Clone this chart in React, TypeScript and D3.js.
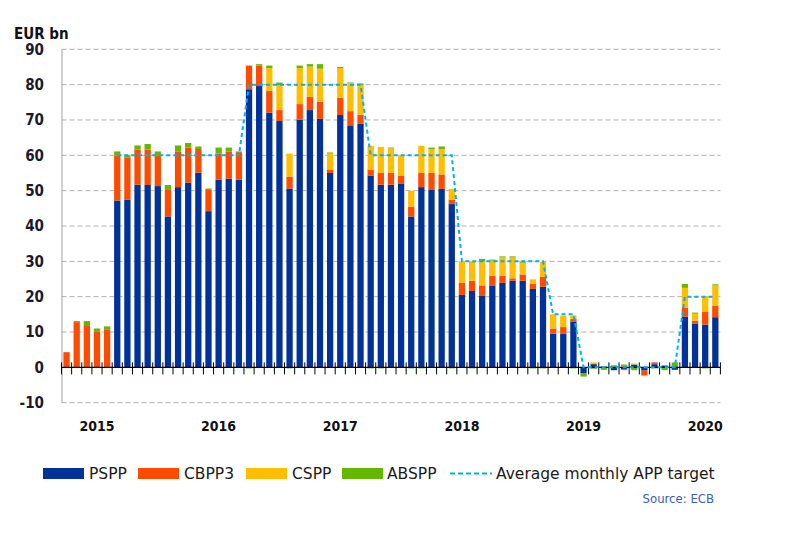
import { useEffect, useRef } from 'react';
import * as d3 from 'd3';

// monthly net purchases, EUR bn
const months = [
  '2014-10', '2014-11', '2014-12',
  '2015-01', '2015-02', '2015-03', '2015-04', '2015-05', '2015-06', '2015-07', '2015-08', '2015-09', '2015-10', '2015-11', '2015-12',
  '2016-01', '2016-02', '2016-03', '2016-04', '2016-05', '2016-06', '2016-07', '2016-08', '2016-09', '2016-10', '2016-11', '2016-12',
  '2017-01', '2017-02', '2017-03', '2017-04', '2017-05', '2017-06', '2017-07', '2017-08', '2017-09', '2017-10', '2017-11', '2017-12',
  '2018-01', '2018-02', '2018-03', '2018-04', '2018-05', '2018-06', '2018-07', '2018-08', '2018-09', '2018-10', '2018-11', '2018-12',
  '2019-01', '2019-02', '2019-03', '2019-04', '2019-05', '2019-06', '2019-07', '2019-08', '2019-09', '2019-10', '2019-11', '2019-12',
  '2020-01', '2020-02',
];

const pspp = [
  0, 0, 0,
  0, 0, 47.2, 47.5, 51.7, 51.6, 51.3, 42.7, 51.0, 52.3, 55.1, 44.2,
  53.1, 53.4, 53.1, 78.7, 79.6, 72.1, 69.7, 50.6, 70.1, 72.8, 70.3, 55.0,
  71.4, 68.3, 69.0, 54.3, 51.7, 51.7, 51.9, 42.7, 51.0, 50.2, 50.5, 46.2,
  20.5, 21.6, 20.2, 23.2, 23.9, 24.5, 24.5, 22.2, 22.8, 9.5, 9.5, 13.0,
  -1.6, 0.9, 0.2, -0.8, -0.5, 0.8, -0.9, 0.9, 0.4, -0.7, 14.4, 12.3,
  12.1, 14.2,
];

const cbpp3 = [
  4.3, 12.8, 11.7,
  10.2, 10.6, 12.7, 11.8, 9.9, 10.0, 8.7, 7.5, 10.1, 9.9, 6.7, 6.0,
  7.4, 7.7, 7.8, 6.7, 5.8, 6.1, 3.1, 3.4, 4.4, 3.7, 4.9, 1.0,
  4.9, 4.2, 2.5, 1.7, 3.3, 3.3, 2.4, 2.8, 4.0, 4.8, 4.1, 1.3,
  3.4, 2.9, 3.0, 2.7, 2.0, 0.7, 1.8, 1.4, 2.8, 1.5, 1.9, 0.7,
  0, 0.2, 0, 0, -0.3, 0, -1.4, 0.5, 0.2, 0, 2.4, 0.9,
  3.7, 3.3,
];

const cspp = [
  0, 0, 0,
  0, 0, 0, 0, 0, 0, 0, 0, 0, 0, 0, 0,
  0, 0, 0, 0, 0, 6.5, 7.1, 6.5, 10.2, 8.6, 9.3, 4.5,
  8.4, 7.9, 8.4, 6.7, 7.4, 7.0, 5.5, 4.5, 7.7, 6.8, 7.2, 3.0,
  6.1, 5.5, 6.8, 4.3, 5.2, 5.9, 3.3, 1.3, 4.2, 4.0, 3.2, 1.0,
  0, 0.3, 0, 0.2, 0.4, 0.3, 0, 0, 0, 0, 5.7, 2.0,
  4.4, 5.7,
];

const abspp = [
  0, 0.3, 1.4,
  0.8, 1.0, 1.2, 0.7, 1.2, 1.6, 1.1, 1.4, 1.7, 1.3, 0.7, 0.4,
  1.7, 1.1, 0.2, -0.3, 0.4, 0.7, 0.7, -0.3, 0.7, 0.7, 1.3, 0.3,
  0.3, 0.2, 0.4, -0.3, -0.3, 0.2, 0, -0.3, -0.3, 0.4, 0.7, -0.3,
  0, -0.3, 0.7, 0.3, 0.3, 0.3, 0.2, -0.3, -0.3, 0, 0, -0.3,
  -1.0, -0.4, -0.7, 0.4, 0.4, -0.8, 0, -0.3, -0.8, 1.4, 1.1, 0.3,
  -0.3, 0.3,
];

// average monthly APP target
const target: (number | null)[] = [
  null, null, null,
  null, null, 60, 60, 60, 60, 60, 60, 60, 60, 60, 60,
  60, 60, 60, 80, 80, 80, 80, 80, 80, 80, 80, 80,
  80, 80, 80, 60, 60, 60, 60, 60, 60, 60, 60, 60,
  30, 30, 30, 30, 30, 30, 30, 30, 30, 15, 15, 15,
  0, 0, 0, 0, 0, 0, 0, 0, 0, 0, 20, 20,
  20, 20,
];

const yearLabels = ['2015', '2016', '2017', '2018', '2019', '2020'];
const yTicks = [-10, 0, 10, 20, 30, 40, 50, 60, 70, 80, 90];

const seriesKeys = ['PSPP', 'CBPP3', 'CSPP', 'ABSPP'];
const colors: Record<string, string> = {
  PSPP: '#003299',
  CBPP3: '#ff4b00',
  CSPP: '#ffbf00',
  ABSPP: '#65b800',
};
const targetColor = '#00b1ea';
const font = '"DejaVu Sans Condensed", "DejaVu Sans", sans-serif';
const legendFont = '"DejaVu Sans", sans-serif';

export default function App() {
  const ref = useRef<SVGSVGElement>(null);

  useEffect(() => {
    const el = ref.current;
    if (!el) return;
    const svg = d3.select(el);
    svg.selectAll('*').remove();

    const W = 787;
    const H = 543;
    const left = 61.5;
    const right = 720.4;
    svg.attr('width', W).attr('height', H).attr('viewBox', `0 0 ${W} ${H}`);

    const rows = months.map((m, i) => ({
      month: m,
      PSPP: pspp[i],
      CBPP3: cbpp3[i],
      CSPP: cspp[i],
      ABSPP: abspp[i],
    }));

    const x = d3.scaleBand<string>().domain(months).range([left, right]).paddingInner(0.38).paddingOuter(0.19);
    const y = d3.scaleLinear().domain([-10, 90]).range([402.7, 49.3]);
    const cx = (m: string) => (x(m) ?? 0) + x.bandwidth() / 2;

    // gridlines
    svg
      .append('g')
      .selectAll('line')
      .data(yTicks.filter((t) => t !== 0))
      .join('line')
      .attr('x1', left)
      .attr('x2', right)
      .attr('y1', (d) => y(d))
      .attr('y2', (d) => y(d))
      .attr('stroke', '#b0b0b0')
      .attr('stroke-width', 1)
      .attr('stroke-dasharray', '5,3');

    // y axis line
    svg
      .append('line')
      .attr('x1', left + 0.5)
      .attr('x2', left + 0.5)
      .attr('y1', y(90))
      .attr('y2', y(-10))
      .attr('stroke', '#b0b0b0')
      .attr('stroke-width', 1.2);

    // y tick labels
    svg
      .append('g')
      .selectAll('text')
      .data(yTicks)
      .join('text')
      .attr('x', 44)
      .attr('y', (d) => y(d))
      .attr('dy', '0.36em')
      .attr('text-anchor', 'end')
      .attr('font-family', font)
      .attr('font-size', 15)
      .attr('font-weight', 'bold')
      .attr('fill', '#1a1a2e')
      .text((d) => String(d));

    svg
      .append('text')
      .attr('x', 14)
      .attr('y', 38.5)
      .attr('font-family', font)
      .attr('font-size', 15)
      .attr('font-weight', 'bold')
      .attr('fill', '#111')
      .text('EUR bn');

    // stacked bars
    const stacked = d3
      .stack<(typeof rows)[number]>()
      .keys(seriesKeys)
      .offset(d3.stackOffsetDiverging)(rows as any);

    svg
      .append('g')
      .selectAll('g')
      .data(stacked)
      .join('g')
      .attr('fill', (s) => colors[s.key])
      .selectAll('rect')
      .data((s) => s)
      .join('rect')
      .attr('x', (d) => x(d.data.month) ?? 0)
      .attr('width', x.bandwidth())
      .attr('y', (d) => y(Math.max(d[0], d[1])))
      .attr('height', (d) => Math.abs(y(d[0]) - y(d[1])));

    // zero axis with month ticks
    const y0 = y(0);
    svg
      .append('line')
      .attr('x1', left)
      .attr('x2', right)
      .attr('y1', y0)
      .attr('y2', y0)
      .attr('stroke', '#000')
      .attr('stroke-width', 1.4);

    const boundaries = [...months.map((m) => cx(m) - x.step() / 2), right];
    svg
      .append('g')
      .selectAll('line')
      .data(boundaries)
      .join('line')
      .attr('x1', (d) => d)
      .attr('x2', (d) => d)
      .attr('y1', y0 - 5)
      .attr('y2', y0 + 7)
      .attr('stroke', '#000')
      .attr('stroke-width', 1);

    // target line
    const line = d3
      .line<number | null>()
      .defined((d) => d !== null)
      .x((_d, i) => cx(months[i]))
      .y((d) => y(d as number));

    svg
      .append('path')
      .datum(target)
      .attr('d', line)
      .attr('fill', 'none')
      .attr('stroke', targetColor)
      .attr('stroke-width', 2)
      .attr('stroke-dasharray', '4,3');

    // year labels under January
    svg
      .append('g')
      .selectAll('text')
      .data(yearLabels)
      .join('text')
      .attr('x', (d) => cx(`${d}-01`))
      .attr('y', 431)
      .attr('text-anchor', 'middle')
      .attr('font-family', font)
      .attr('font-size', 14)
      .attr('font-weight', 'bold')
      .attr('fill', '#111')
      .text((d) => d);

    // legend
    const legend = [
      { label: 'PSPP', x: 43, tx: 89, kind: 'rect', color: colors.PSPP },
      { label: 'CBPP3', x: 138, tx: 184, kind: 'rect', color: colors.CBPP3 },
      { label: 'CSPP', x: 246, tx: 292, kind: 'rect', color: colors.CSPP },
      { label: 'ABSPP', x: 342, tx: 387, kind: 'rect', color: colors.ABSPP },
      { label: 'Average monthly APP target', x: 450, tx: 496, kind: 'line', color: targetColor },
    ];
    const lg = svg.append('g');
    legend.forEach((item) => {
      if (item.kind === 'rect') {
        lg.append('rect')
          .attr('x', item.x)
          .attr('y', 468)
          .attr('width', 41)
          .attr('height', 11)
          .attr('fill', item.color);
      } else {
        lg.append('line')
          .attr('x1', item.x)
          .attr('x2', item.x + 42)
          .attr('y1', 473.5)
          .attr('y2', 473.5)
          .attr('stroke', item.color)
          .attr('stroke-width', 2)
          .attr('stroke-dasharray', '5,3');
      }
      lg.append('text')
        .attr('x', item.tx)
        .attr('y', 473.5)
        .attr('dy', '0.36em')
        .attr('font-family', legendFont)
        .attr('font-size', 15.5)
        .attr('fill', '#1a1a1a')
        .text(item.label);
    });

    svg
      .append('text')
      .attr('x', 714)
      .attr('y', 503)
      .attr('text-anchor', 'end')
      .attr('font-family', font)
      .attr('font-size', 13)
      .attr('fill', '#3a5fb5')
      .text('Source: ECB');
  }, []);

  return <svg ref={ref} style={{ position: 'absolute', left: 0, top: 0, background: '#fff' }} />;
}
